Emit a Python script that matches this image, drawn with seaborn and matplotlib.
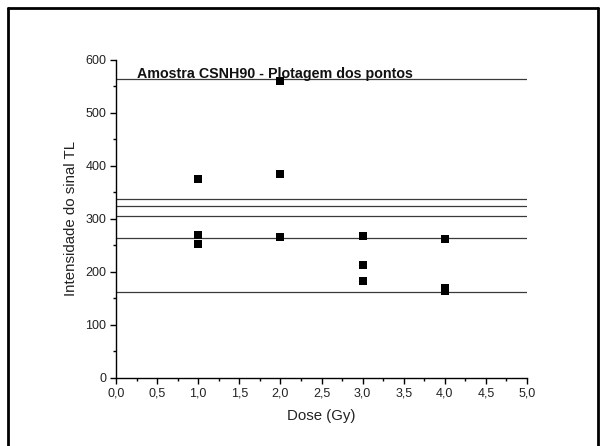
import matplotlib
matplotlib.use("Agg")
import matplotlib.pyplot as plt
from matplotlib.lines import Line2D
from matplotlib.ticker import MultipleLocator, FuncFormatter
import seaborn as sns
import pandas as pd

# Data
dose = [1, 1, 1, 2, 2, 2, 3, 3, 3, 4, 4, 4]
signal = [376, 269, 252, 560, 385, 266, 268, 213, 183, 262, 170, 164]
ref_lines = [565, 337, 325, 305, 264, 162]
title_text = "Amostra CSNH90 - Plotagem dos pontos"
x_label = "Dose (Gy)"
y_label = "Intensidade do sinal TL"

sns.set_theme(style="ticks")
plt.rcParams["font.family"] = ["Liberation Sans", "DejaVu Sans"]

fig = plt.figure(figsize=(6, 4.46), dpi=100)
W, H = 600, 446
ax = fig.add_axes([116 / W, 1 - 377.7 / H, (527 - 116) / W, (377.7 - 60) / H])

df = pd.DataFrame({"dose": dose, "signal": signal})

ax.hlines(ref_lines, 0, 5, colors="#3a3a3a", linewidth=0.9, zorder=1)
sns.scatterplot(data=df, x="dose", y="signal", ax=ax, marker="s", s=27,
                color="black", edgecolor="black", linewidth=0, zorder=3)

ax.set_xlim(0, 5)
ax.set_ylim(0, 600)
ax.xaxis.set_major_locator(MultipleLocator(0.5))
ax.xaxis.set_minor_locator(MultipleLocator(0.25))
ax.yaxis.set_major_locator(MultipleLocator(100))
ax.yaxis.set_minor_locator(MultipleLocator(50))
ax.xaxis.set_major_formatter(FuncFormatter(lambda v, p: f"{v:.1f}".replace(".", ",")))

for s in ["top", "right"]:
    ax.spines[s].set_visible(False)
for s in ["left", "bottom"]:
    ax.spines[s].set_linewidth(1.0)
    ax.spines[s].set_color("black")

ax.tick_params(which="major", direction="out", length=4.5, width=1.0, labelsize=9,
               pad=2.5, color="black", labelcolor="#222222")
ax.tick_params(which="minor", direction="out", length=2.5, width=1.0, color="black")

ax.set_xlabel(x_label, fontsize=10.8, labelpad=7, color="#222222")
ax.set_ylabel(y_label, fontsize=10.8, labelpad=5, color="#222222")

ax.text(0.25, 566, title_text, fontsize=10.3, fontweight="bold", ha="left",
        va="baseline", color="#111111", zorder=4)

# outer frame (open at the bottom)
lw = 2.0
top = 1 - 7.5 / H
fig.add_artist(Line2D([7.5 / W, 7.5 / W], [0, top], transform=fig.transFigure,
                      color="black", linewidth=lw))
fig.add_artist(Line2D([7.5 / W, 597.5 / W], [top, top], transform=fig.transFigure,
                      color="black", linewidth=lw))
fig.add_artist(Line2D([597.5 / W, 597.5 / W], [0, top], transform=fig.transFigure,
                      color="black", linewidth=lw))

fig.savefig("out.png", dpi=100)
